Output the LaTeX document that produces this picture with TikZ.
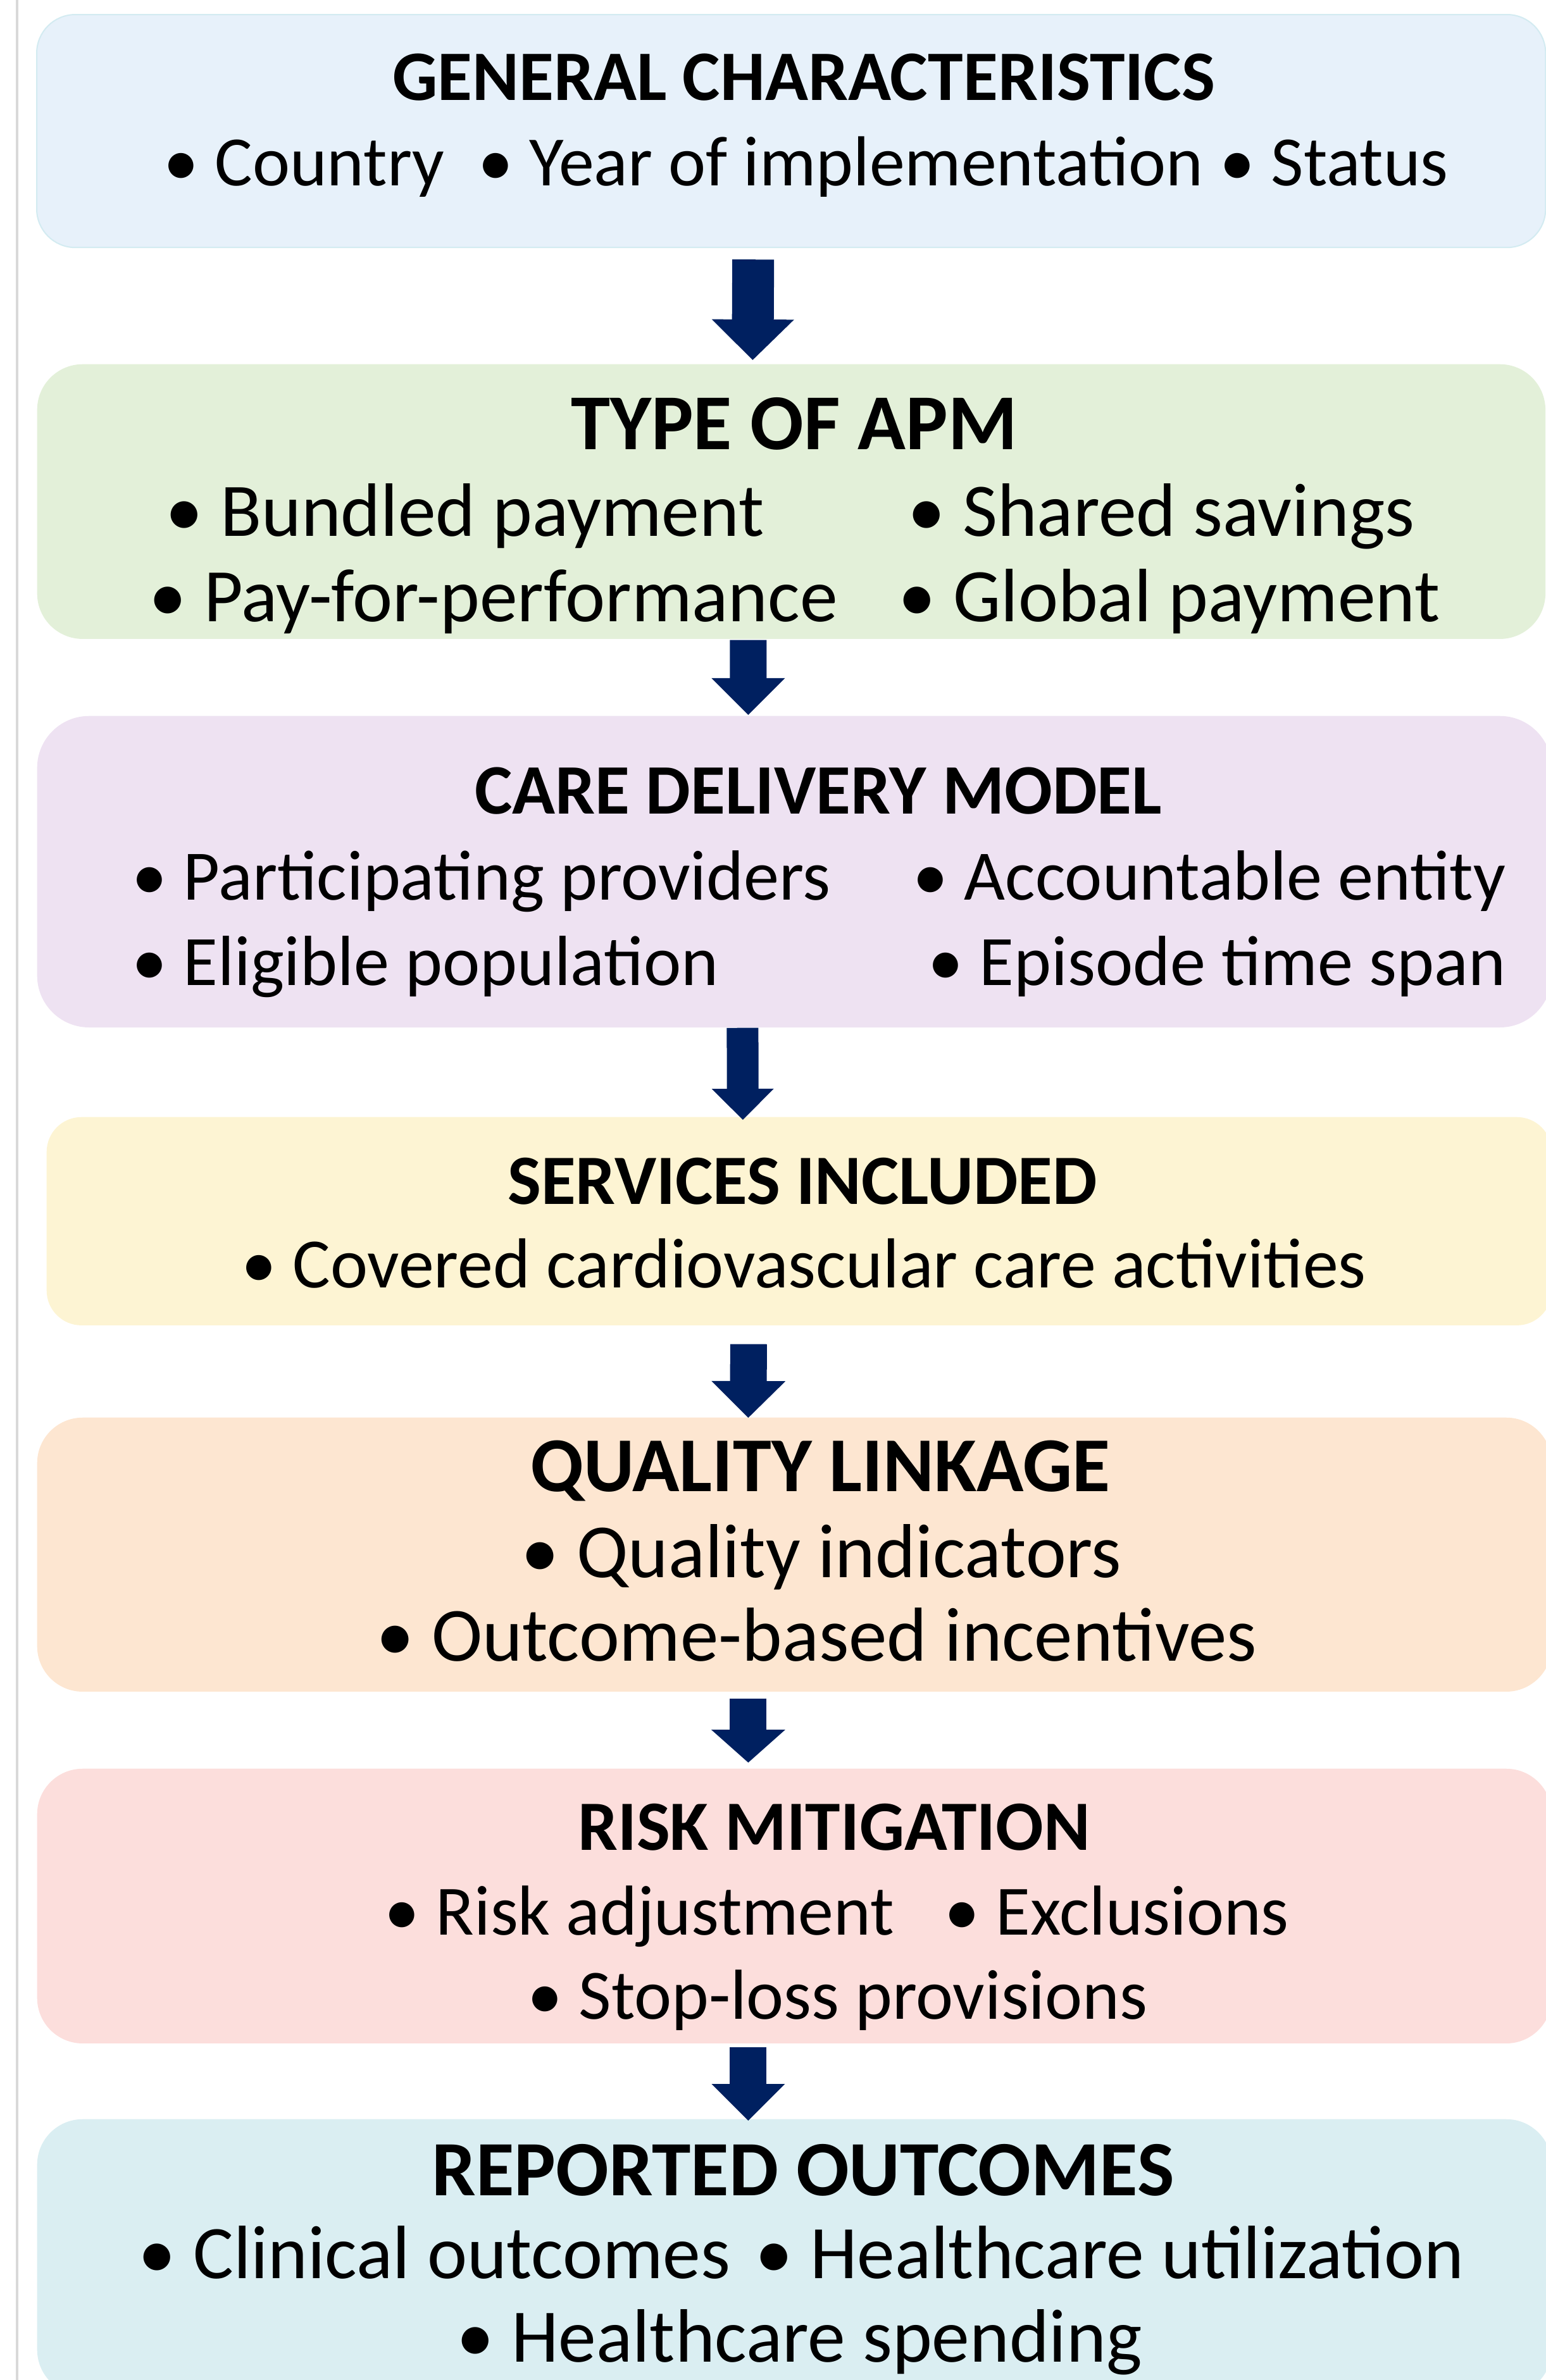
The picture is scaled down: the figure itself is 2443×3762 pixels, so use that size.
\documentclass[tikz,border=0pt]{standalone}
\usepackage{fontspec}
\setmainfont{Carlito}
\usetikzlibrary{arrows.meta}

\definecolor{navyarrow}{HTML}{002060}
\definecolor{sidegray}{HTML}{D9D9D9}
\definecolor{generalfill}{HTML}{E7F1FA}
\definecolor{generalline}{HTML}{D3EBF1}
\definecolor{apmfill}{HTML}{E3F0D9}
\definecolor{carefill}{HTML}{EEE2F2}
\definecolor{servicesfill}{HTML}{FDF4D3}
\definecolor{qualityfill}{HTML}{FDE6D1}
\definecolor{riskfill}{HTML}{FCDEDC}
\definecolor{outcomesfill}{HTML}{DAEEF2}

\begin{document}
\begin{tikzpicture}[x=0.01cm, y=-0.01cm,
  box/.style={rectangle, rounded corners=#1, inner sep=0pt, anchor=north west},
  boxtitle/.style={anchor=base, inner sep=0pt, font=\bfseries\fontsize{#1}{#1}\selectfont},
  bulletitem/.style={anchor=base west, inner sep=0pt, font=\fontsize{#1}{#1}\selectfont},
  flowarrow/.style n args={3}{draw=navyarrow, line width=#1,
    -{Triangle[length=#2, width=#3, line width=0pt]}}]

  % page frame
  \useasboundingbox (0,0) rectangle (2443,3762);
  \clip (0,0) rectangle (2443,3762);

  % thin gray rule on the left
  \draw[line width=0.04cm, sidegray] (27,0) -- (27,3762);

  % the seven boxes
  \node[box=0.61cm, fill=generalfill, draw=generalline, line width=0.02cm,
        minimum width=23.83cm, minimum height=3.68cm] (general) at (57,22) {};
  \node[box=0.72cm, fill=apmfill, minimum width=23.82cm, minimum height=4.34cm] (apm) at (58,575) {};
  \node[box=0.82cm, fill=carefill, minimum width=23.92cm, minimum height=4.92cm] (care) at (58,1131) {};
  \node[box=0.55cm, fill=servicesfill, minimum width=23.77cm, minimum height=3.29cm] (services) at (73,1765) {};
  \node[box=0.72cm, fill=qualityfill, minimum width=23.92cm, minimum height=4.33cm] (quality) at (58,2240) {};
  \node[box=0.72cm, fill=riskfill, minimum width=23.92cm, minimum height=4.34cm] (risk) at (58,2795) {};
  \node[box=0.72cm, fill=outcomesfill, minimum width=23.92cm, minimum height=4.36cm] (outcomes) at (58,3349) {};

  % general characteristics
  \node[boxtitle=31.9pt] (general-t) at (1270,158) {GENERAL CHARACTERISTICS};
  \node[bulletitem=31.8pt] (g1) at (258,293) {• Country};
  \node[bulletitem=31.8pt] (g2) at (755,293) {• Year of implementation};
  \node[bulletitem=31.8pt] (g3) at (1927,293) {• Status};

  % type of APM
  \node[boxtitle=35.6pt] (apm-t) at (1255,710) {TYPE OF APM};
  \node[bulletitem=34pt] (a1) at (261,847) {• Bundled payment};
  \node[bulletitem=34pt] (a2) at (1434,847) {• Shared savings};
  \node[bulletitem=34pt] (a3) at (235,982) {• Pay-for-performance};
  \node[bulletitem=34pt] (a4) at (1419,982) {• Global payment};

  % care delivery model
  \node[boxtitle=31.9pt] (care-t) at (1293,1286) {CARE DELIVERY MODEL};
  \node[bulletitem=31.9pt] (c1) at (208,1422) {• Participating providers};
  \node[bulletitem=31.9pt] (c2) at (1442,1422) {• Accountable entity};
  \node[bulletitem=31.9pt] (c3) at (208,1557) {• Eligible population};
  \node[bulletitem=31.9pt] (c4) at (1466,1557) {• Episode time span};

  % services included
  \node[boxtitle=31.8pt] (services-t) at (1268,1903) {SERVICES INCLUDED};
  \node[bulletitem=31.8pt] (s1) at (381,2035) {• Covered cardiovascular care activities};

  % quality linkage
  \node[boxtitle=34.9pt] (quality-t) at (1296,2357) {QUALITY LINKAGE};
  \node[bulletitem=34.4pt] (q1) at (823,2493) {• Quality indicators};
  \node[bulletitem=34.4pt] (q2) at (594,2625) {• Outcome-based incentives};

  % risk mitigation
  \node[boxtitle=31.8pt] (risk-t) at (1318,2924) {RISK MITIGATION};
  \node[bulletitem=31.8pt] (r1) at (607,3058) {• Risk adjustment};
  \node[bulletitem=31.8pt] (r2) at (1492,3058) {• Exclusions};
  \node[bulletitem=31.8pt] (r3) at (833,3191) {• Stop-loss provisions};

  % reported outcomes
  \node[boxtitle=35.2pt] (outcomes-t) at (1269,3470) {REPORTED OUTCOMES};
  \node[bulletitem=34pt] (o1) at (218,3601) {• Clinical outcomes};
  \node[bulletitem=34pt] (o2) at (1193,3601) {• Healthcare utilization};
  \node[bulletitem=34pt] (o3) at (721,3733) {• Healthcare spending};

  % block arrows between the boxes
  \draw[flowarrow={0.66cm}{0.64cm}{1.30cm}] ([shift={(-60,18)}]general.south) -- ([shift={(-61,-6)}]apm.north);
  \draw[flowarrow={0.58cm}{0.58cm}{1.16cm}] ([shift={(-68,1)}]apm.south) -- ([shift={(-73,-1)}]care.north);
  \draw[flowarrow={0.50cm}{0.49cm}{0.98cm}] ([shift={(-82,0)}]care.south) -- ([shift={(-89,5)}]services.north);
  \draw[flowarrow={0.58cm}{0.58cm}{1.17cm}] ([shift={(-80,29)}]services.south) -- ([shift={(-73,1)}]quality.north);
  \draw[flowarrow={0.58cm}{0.52cm}{1.17cm}] ([shift={(-73,10)}]quality.south) -- ([shift={(-73,-9)}]risk.north);
  \draw[flowarrow={0.58cm}{0.58cm}{1.16cm}] ([shift={(-73,5)}]risk.south) -- ([shift={(-73,3)}]outcomes.north);
\end{tikzpicture}
\end{document}
